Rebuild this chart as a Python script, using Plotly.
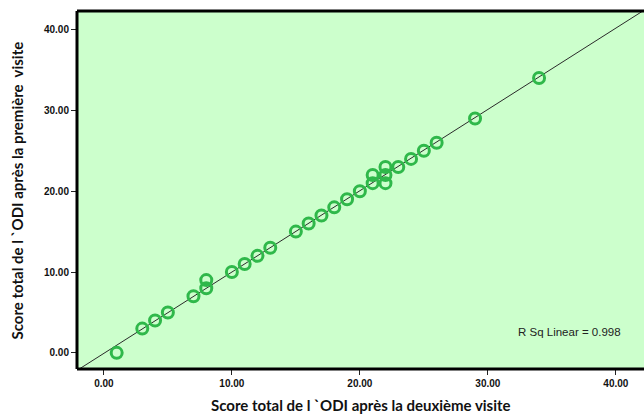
import numpy as np
import plotly.graph_objects as go

# ODI total score: second visit (x) vs first visit (y)
deuxieme_visite = [1, 3, 4, 5, 7, 8, 8, 10, 11, 12, 13, 15, 16, 17, 18, 19, 20,
                   21, 21, 22, 22, 22, 23, 24, 25, 26, 29, 34]
premiere_visite = [0, 3, 4, 5, 7, 8, 9, 10, 11, 12, 13, 15, 16, 17, 18, 19, 20,
                   21, 22, 21, 22, 23, 23, 24, 25, 26, 29, 34]
r_sq_linear = 0.998
tick_vals = [0, 10, 20, 30, 40]
tick_text = ["0.00", "10.00", "20.00", "30.00", "40.00"]

x_range = [-2.1, 42.2]
y_range = [-2.0, 42.3]

x = np.array(deuxieme_visite, dtype=float)
y = np.array(premiere_visite, dtype=float)
slope, intercept = np.polyfit(x, y, 1)

fit_x = np.array(x_range)
fit_y = intercept + slope * fit_x

fig = go.Figure()
fig.add_trace(go.Scatter(
    x=fit_x, y=fit_y, mode="lines",
    line=dict(color="#2a2a2a", width=1), hoverinfo="skip", showlegend=False,
))
fig.add_trace(go.Scatter(
    x=x, y=y, mode="markers",
    marker=dict(symbol="circle-open", size=11, color="#2fb84a",
                line=dict(width=3, color="#2fb84a")),
    showlegend=False,
))

axis_font = dict(family="Liberation Sans, Arial, sans-serif", size=10, color="#111111")
fig.update_xaxes(range=x_range, tickvals=tick_vals,
                 ticktext=[f"<b>{t}</b>" for t in tick_text],
                 ticks="outside", ticklen=5, tickcolor="#222222", tickwidth=1,
                 showgrid=False, zeroline=False, showline=False,
                 tickfont=axis_font)
fig.update_yaxes(range=y_range, tickvals=tick_vals,
                 ticktext=[f"<b>{t}</b>" for t in tick_text],
                 ticks="outside", ticklen=5, tickcolor="#222222", tickwidth=1,
                 showgrid=False, zeroline=False, showline=False,
                 tickfont=axis_font)

# Frame on the left, top and bottom of the plotting area
frame = dict(type="line", xref="paper", yref="paper",
             line=dict(color="black", width=3))
fig.add_shape(x0=0, x1=0, y0=0, y1=1, **frame)
fig.add_shape(x0=0, x1=1, y0=1, y1=1, **frame)
fig.add_shape(x0=0, x1=1, y0=0, y1=0, **frame)

title_font = dict(family="Lato, Calibri, sans-serif", size=15, color="#111111")
fig.add_annotation(text="<b>Score total de l `ODI après la deuxième visite</b>",
                   xref="paper", yref="paper", x=0.5, y=-0.1,
                   xanchor="center", yanchor="middle", showarrow=False,
                   font=title_font)
fig.add_annotation(text="<b>Score total de l `ODI après la première  visite</b>",
                   xref="paper", yref="paper", x=-0.105, y=0.5, textangle=-90,
                   xanchor="center", yanchor="middle", showarrow=False,
                   font=title_font)
fig.add_annotation(text=f"R Sq Linear = {r_sq_linear:.3f}",
                   x=36.4, y=2.6, xref="x", yref="y",
                   xanchor="center", yanchor="middle", showarrow=False,
                   font=dict(family="Liberation Sans, Arial, sans-serif",
                             size=11.5, color="#222222"))

fig.update_layout(
    width=644, height=416,
    margin=dict(l=77, r=0, t=11, b=47),
    paper_bgcolor="white", plot_bgcolor="#ccffcc",
)

fig.write_html("out.html")
